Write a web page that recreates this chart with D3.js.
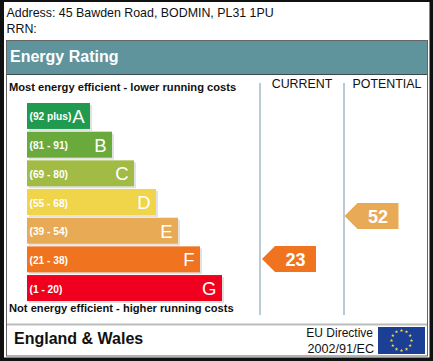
<!DOCTYPE html>
<html>
<head>
<meta charset="utf-8">
<script src="https://cdn.jsdelivr.net/npm/d3@7"></script>
<style>
  html, body { margin: 0; padding: 0; background: #fff; }
  svg { display: block; }
  text { font-family: "Liberation Sans", Arial, sans-serif; }
</style>
</head>
<body>
<svg id="chart" width="433" height="361"></svg>
<script>
const bands = ["A", "B", "C", "D", "E", "F", "G"];
const ranges = ["(92 plus)", "(81 - 91)", "(69 - 80)", "(55 - 68)", "(39 - 54)", "(21 - 38)", "(1 - 20)"];
const bandColors = ["#1f9a4f", "#6aaa3c", "#a1bb45", "#f0d44a", "#e9aa55", "#f0741f", "#f0001e"];
const barLengths = [1, 2, 3, 4, 5, 6, 7];
const ratingColumns = ["CURRENT", "POTENTIAL"];
const ratingValues = [23, 52];
const ratingBands = ["F", "E"];

const svg = d3.select("#chart");

// frame and panels
svg.append("rect").attr("width", 433).attr("height", 361).attr("fill", "#111");
svg.append("rect").attr("x", 4).attr("y", 2).attr("width", 425.5).attr("height", 355.5).attr("fill", "#fff");
svg.append("rect").attr("x", 6.5).attr("y", 40.5).attr("width", 421).attr("height", 315.5)
  .attr("fill", "#fff").attr("stroke", "#666");
svg.append("rect").attr("x", 7).attr("y", 41).attr("width", 420).attr("height", 33)
  .attr("fill", "#5f949c");
svg.append("line").attr("x1", 7).attr("x2", 427).attr("y1", 74.5).attr("y2", 74.5).attr("stroke", "#3c4a4c");
svg.append("line").attr("x1", 7).attr("x2", 427).attr("y1", 324.5).attr("y2", 324.5)
  .attr("stroke", "#bbb").attr("stroke-width", 2);

function label(x, y, txt, size, opts) {
  opts = opts || {};
  return svg.append("text")
    .attr("x", x).attr("y", y)
    .attr("font-size", size)
    .attr("font-weight", opts.weight || "normal")
    .attr("fill", opts.fill || "#111")
    .attr("text-anchor", opts.anchor || "start")
    .text(txt);
}

label(6.5, 17, "Address: 45 Bawden Road, BODMIN, PL31 1PU", 12.4);
label(6.5, 33, "RRN:", 12.4);
label(10, 62, "Energy Rating", 16, { weight: "bold", fill: "#fff" });
label(9, 91, "Most energy efficient - lower running costs", 11.15, { weight: "bold" });
label(9, 312, "Not energy efficient - higher running costs", 11.15, { weight: "bold" });
label(14, 344, "England & Wales", 16, { weight: "bold" });

// scales
const y = d3.scaleBand().domain(bands).range([103, 301]).paddingInner(0.095).paddingOuter(0);
const x = d3.scaleLinear().domain([1, 7]).range([90, 222]);
const color = d3.scaleOrdinal().domain(bands).range(bandColors);
// arrows sit by rating value, not on the band rows
const ratingY = d3.scaleLinear().domain([1, 100]).range([291.6, 145]);

const bars = svg.append("g").selectAll("g").data(bands).join("g");
bars.append("rect")
  .attr("x", 29).attr("y", d => y(d) + 2)
  .attr("width", (d, i) => x(barLengths[i]) - 27)
  .attr("height", y.bandwidth())
  .attr("fill", "#e2e2e2");
bars.append("rect")
  .attr("x", 27).attr("y", d => y(d))
  .attr("width", (d, i) => x(barLengths[i]) - 27)
  .attr("height", y.bandwidth())
  .attr("fill", d => color(d));
bars.append("text")
  .attr("x", 29.5).attr("y", d => y(d) + y.bandwidth() / 2 + 4.5)
  .attr("font-family", "Roboto").attr("font-size", 10.2).attr("font-weight", 700)
  .attr("fill", "#fff")
  .text((d, i) => ranges[i]);
bars.append("text")
  .attr("x", (d, i) => x(barLengths[i]) - 5.5)
  .attr("y", d => y(d) + y.bandwidth() / 2 + 7)
  .attr("font-family", "Roboto").attr("font-size", 18.5).attr("font-weight", 500)
  .attr("text-anchor", "end").attr("fill", "#fff")
  .text(d => d);

// current / potential columns
const colX = d3.scalePoint().domain(ratingColumns).range([260, 344]);
const headX = d3.scaleOrdinal().domain(ratingColumns).range([302, 387]);
const arrowX = d3.scaleOrdinal().domain(ratingColumns).range([262, 344.5]);
ratingColumns.forEach((c, i) => {
  svg.append("line").attr("x1", colX(c)).attr("x2", colX(c)).attr("y1", 83).attr("y2", 315)
    .attr("stroke", "#b9ccd4").attr("stroke-width", 2);
  label(headX(c), 88, c, 12.4, { anchor: "middle" });

  const b = ratingBands[i];
  const mid = ratingY(ratingValues[i]), h = y.bandwidth(), left = arrowX(c), right = left + 54;
  svg.append("path")
    .attr("d", d3.line()([[left, mid], [left + 13, mid - h / 2], [right, mid - h / 2], [right, mid + h / 2], [left + 13, mid + h / 2]]) + "Z")
    .attr("fill", color(b));
  label(left + 33.5, mid + 6.5, ratingValues[i], 18, { weight: "bold", fill: "#fff", anchor: "middle" });
});

// EU footer
label(373, 337, "EU Directive", 12, { anchor: "end" });
label(374, 353, "2002/91/EC", 12.6, { anchor: "end" });
svg.append("rect").attr("x", 378).attr("y", 327).attr("width", 47).attr("height", 27).attr("fill", "#1b3f94");
const stars = d3.range(12).map(i => i * 30);
const ring = d3.scaleLinear().domain([0, 360]).range([0, 2 * Math.PI]);
svg.append("g").selectAll("path").data(stars).join("path")
  .attr("d", d3.symbol(d3.symbolStar, 4))
  .attr("transform", d => `translate(${401.5 + 10 * Math.sin(ring(d))},${340.5 - 10 * Math.cos(ring(d))})`)
  .attr("fill", "#f7dc3e");
</script>
</body>
</html>
